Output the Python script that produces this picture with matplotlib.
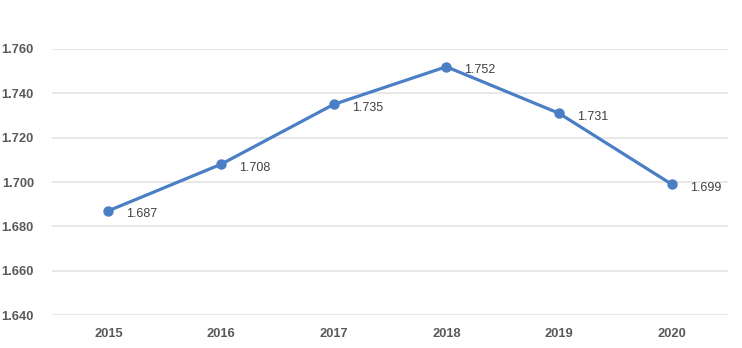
import matplotlib.pyplot as plt
from matplotlib.ticker import FormatStrFormatter

years = ["2015", "2016", "2017", "2018", "2019", "2020"]
values = [1.687, 1.708, 1.735, 1.752, 1.731, 1.699]
y_ticks = [1.640, 1.660, 1.680, 1.700, 1.720, 1.740, 1.760]

plt.rcParams["font.family"] = ["Liberation Sans", "DejaVu Sans"]

fig = plt.figure(figsize=(7.42, 3.48), dpi=100)
ax = fig.add_axes([0.0701, 0.0948, 0.911, 0.7644])

x = list(range(len(years)))
ax.plot(x, values, color="#4A7FC6", linewidth=2.3, marker="o", markersize=6.5,
        solid_capstyle="round", zorder=3)

# value labels sit just right of each marker, a touch below it
for xi, v in zip(x, values):
    ax.annotate(f"{v:.3f}", (xi, v), xytext=(13, -2.5), textcoords="offset points",
                ha="left", va="center", fontsize=9, color="#404040")

ax.set_xlim(-0.5, len(years) - 0.5)
ax.set_ylim(y_ticks[0], y_ticks[-1])
ax.set_xticks(x)
ax.set_xticklabels(years)
ax.set_yticks(y_ticks)
ax.yaxis.set_major_formatter(FormatStrFormatter("%.3f"))

for lbl in ax.get_xticklabels() + ax.get_yticklabels():
    lbl.set_fontweight("bold")
    lbl.set_color("#595959")
    lbl.set_fontsize(9.3)

ax.tick_params(axis="both", length=0)
ax.tick_params(axis="y", pad=13)
ax.tick_params(axis="x", pad=9)
ax.grid(axis="y", color="#E6E6E6", linewidth=1.3)
ax.set_axisbelow(True)
for s in ax.spines.values():
    s.set_visible(False)

fig.savefig("out.png", dpi=100)
